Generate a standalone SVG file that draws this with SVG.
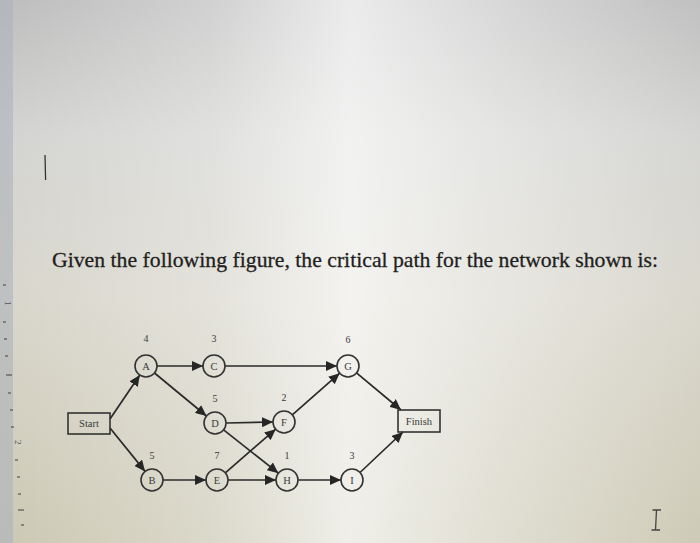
<svg xmlns="http://www.w3.org/2000/svg" width="700" height="543" viewBox="0 0 700 543">
<defs>
<linearGradient id="bgv" x1="0" y1="0" x2="0" y2="1">
<stop offset="0" stop-color="#bdbdbd"/>
<stop offset="0.25" stop-color="#d3d3d1"/>
<stop offset="0.55" stop-color="#d8d6cb"/>
<stop offset="1" stop-color="#cbc8b3"/>
</linearGradient>
<linearGradient id="bgh" x1="0" y1="0" x2="1" y2="0">
<stop offset="0" stop-color="#ffffff" stop-opacity="0"/>
<stop offset="0.3" stop-color="#ffffff" stop-opacity="0.3"/>
<stop offset="0.5" stop-color="#ffffff" stop-opacity="0.7"/>
<stop offset="0.72" stop-color="#ffffff" stop-opacity="0.4"/>
<stop offset="1" stop-color="#ffffff" stop-opacity="0.05"/>
</linearGradient>
<marker id="arr" markerUnits="userSpaceOnUse" markerWidth="12" markerHeight="10" refX="11" refY="5" orient="auto">
<path d="M0,0 L11,5 L0,10 z" fill="#262626"/>
</marker>
</defs>
<style>
.n circle{fill:none;stroke:#333;stroke-width:1.6}
.n rect{fill:none;stroke:#333;stroke-width:1.6}
.lt{font-family:"Liberation Serif","Times New Roman","DejaVu Serif",serif;font-size:10.5px;fill:#3a3a3a;text-anchor:middle}
.num{font-family:"Liberation Serif","Times New Roman","DejaVu Serif",serif;font-size:10px;fill:#3a3a3a;text-anchor:middle}
.title{font-family:"Liberation Serif","Times New Roman","DejaVu Serif",serif;font-size:22px;fill:#1f1f1f;stroke:#1f1f1f;stroke-width:0.3}
.ruler{font-family:"Liberation Serif","Times New Roman","DejaVu Serif",serif;font-size:9px;fill:#555}
.e line{stroke:#2a2a2a;stroke-width:1.7;marker-end:url(#arr)}
.tick{stroke:#555;stroke-width:1.2}
</style>
<rect x="0" y="0" width="700" height="543" fill="url(#bgv)"/>
<rect x="0" y="0" width="700" height="543" fill="url(#bgh)"/>
<rect x="0" y="0" width="13" height="543" fill="#aeb2ba" opacity="0.6"/>
<g id="ruler">
<line class="tick" x1="3" y1="285" x2="6" y2="285"/>
<line class="tick" x1="3" y1="322" x2="6" y2="322"/>
<line class="tick" x1="4" y1="339" x2="7" y2="339"/>
<line class="tick" x1="5" y1="356" x2="8" y2="356"/>
<line class="tick" x1="6" y1="375" x2="12" y2="375"/>
<line class="tick" x1="8" y1="393" x2="11" y2="393"/>
<line class="tick" x1="10" y1="410" x2="13" y2="410"/>
<line class="tick" x1="11" y1="427" x2="14" y2="427"/>
<line class="tick" x1="15" y1="460" x2="18" y2="460"/>
<line class="tick" x1="17" y1="477" x2="20" y2="477"/>
<line class="tick" x1="18" y1="494" x2="21" y2="494"/>
<line class="tick" x1="18" y1="510" x2="24" y2="510"/>
<line class="tick" x1="21" y1="525" x2="24" y2="525"/>
<text class="ruler" x="3" y="303" transform="rotate(90 5 303)">1</text>
<text class="ruler" x="12" y="443" transform="rotate(90 15 443)">2</text>
</g>
<line x1="45" y1="155" x2="45.6" y2="180" stroke="#333" stroke-width="1.3"/>
<g id="ibeam" stroke="#444" stroke-width="1.3" fill="none">
<path d="M656.5,510 L655.5,530 M652.5,510 L661,510 M651.5,530 L660,530"/>
</g>
<text class="title" x="52" y="267" textLength="606" lengthAdjust="spacingAndGlyphs">Given the following figure, the critical path for the network shown is:</text>
<g id="connectors" class="e">
<line x1="110" y1="419" x2="139.8" y2="375.1"/>
<line x1="110" y1="428" x2="145.1" y2="471.4"/>
<line x1="157" y1="366" x2="203" y2="366"/>
<line x1="154.5" y1="373" x2="206.5" y2="416"/>
<line x1="225" y1="366" x2="337" y2="366"/>
<line x1="226" y1="423" x2="273" y2="422"/>
<line x1="223.6" y1="429.8" x2="278.4" y2="473.2"/>
<line x1="225.3" y1="472.8" x2="275.7" y2="429.2"/>
<line x1="163" y1="480" x2="206" y2="480"/>
<line x1="228" y1="480" x2="276" y2="480"/>
<line x1="292.3" y1="414.8" x2="339.7" y2="373.2"/>
<line x1="298" y1="480" x2="341" y2="480"/>
<line x1="356.5" y1="372.9" x2="401" y2="410"/>
<line x1="360" y1="472.5" x2="403" y2="432"/>
</g>
<g id="start" class="n"><rect x="68" y="413" width="42" height="21"/><text class="lt" x="89" y="427">Start</text></g>
<g id="finish" class="n"><rect x="398" y="410" width="42" height="22"/><text class="lt" x="419" y="424.5">Finish</text></g>
<g id="A" class="n"><circle cx="146" cy="366" r="11"/><text class="lt" x="146" y="369.5">A</text><text class="num" x="146" y="342">4</text></g>
<g id="C" class="n"><circle cx="214" cy="366" r="11"/><text class="lt" x="214" y="369.5">C</text><text class="num" x="214" y="342">3</text></g>
<g id="G" class="n"><circle cx="348" cy="366" r="11"/><text class="lt" x="348" y="369.5">G</text><text class="num" x="348" y="343">6</text></g>
<g id="D" class="n"><circle cx="215" cy="423" r="11"/><text class="lt" x="215" y="426.5">D</text><text class="num" x="215" y="402">5</text></g>
<g id="F" class="n"><circle cx="284" cy="422" r="11"/><text class="lt" x="284" y="425.5">F</text><text class="num" x="284" y="401">2</text></g>
<g id="B" class="n"><circle cx="152" cy="480" r="11"/><text class="lt" x="152" y="483.5">B</text><text class="num" x="152" y="459">5</text></g>
<g id="E" class="n"><circle cx="217" cy="480" r="11"/><text class="lt" x="217" y="483.5">E</text><text class="num" x="217" y="459">7</text></g>
<g id="H" class="n"><circle cx="287" cy="480" r="11"/><text class="lt" x="287" y="483.5">H</text><text class="num" x="287" y="459">1</text></g>
<g id="I" class="n"><circle cx="352" cy="480" r="11"/><text class="lt" x="352" y="483.5">I</text><text class="num" x="352" y="459">3</text></g>
</svg>
